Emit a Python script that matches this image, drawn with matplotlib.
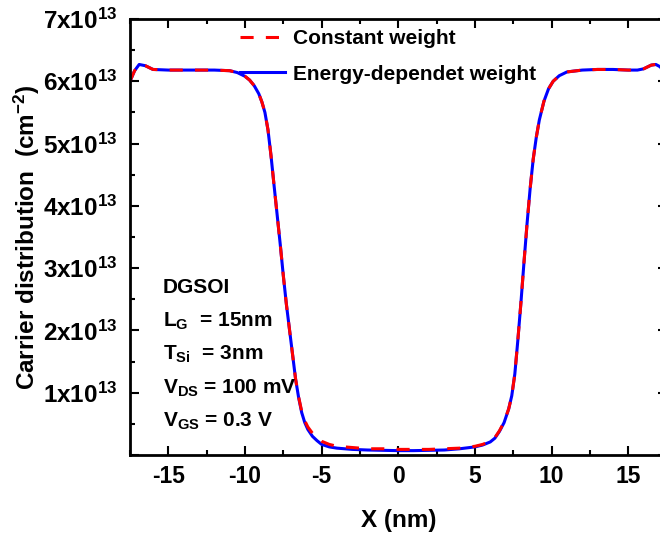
"""Carrier distribution along the channel of a DGSOI device.

Compares the constant weight and the energy-dependent weight models.
"""

import matplotlib

matplotlib.use("Agg")
import matplotlib.pyplot as plt
from matplotlib.ticker import FuncFormatter, MultipleLocator

# position along the channel (nm)
X_NM = [
    -17.5, -17.2, -16.9, -16.5, -16.0, -15.0, -14.0, -13.0, -12.0, -11.0,
    -10.5, -10.0, -9.7, -9.4, -9.1, -8.9, -8.7, -8.5, -8.3, -8.1,
    -7.9, -7.7, -7.5, -7.3, -7.1, -6.9, -6.7, -6.5, -6.3, -6.1,
    -5.9, -5.6, -5.3, -5.0, -4.5, -4.0, -3.0, -2.0, -1.0, 0.0,
    1.0, 2.0, 3.0, 4.0, 5.0, 5.5, 6.0, 6.3, 6.6, 6.9,
    7.2, 7.4, 7.6, 7.8, 8.0, 8.2, 8.4, 8.6, 8.8, 9.0,
    9.2, 9.5, 9.8, 10.1, 10.5, 11.0, 12.0, 13.0, 14.0, 15.0,
    15.6, 16.0, 16.5, 16.8, 17.1, 17.5,
]
# energy-dependent weight (x1e13 cm^-2)
ENERGY_WEIGHT = [
    6.00, 6.17, 6.27, 6.25, 6.19, 6.18, 6.18, 6.18, 6.18, 6.17,
    6.14, 6.08, 6.02, 5.93, 5.80, 5.67, 5.50, 5.22, 4.80, 4.32,
    3.85, 3.38, 2.88, 2.42, 2.02, 1.62, 1.22, 0.92, 0.68, 0.52,
    0.41, 0.30, 0.23, 0.17, 0.13, 0.11, 0.09, 0.08, 0.075, 0.07,
    0.07, 0.075, 0.08, 0.10, 0.13, 0.16, 0.21, 0.27, 0.38, 0.52,
    0.74, 0.95, 1.30, 1.85, 2.45, 3.10, 3.72, 4.28, 4.75, 5.10,
    5.38, 5.68, 5.88, 6.00, 6.09, 6.15, 6.18, 6.19, 6.19, 6.18,
    6.18, 6.20, 6.26, 6.27, 6.23, 6.05,
]
# constant weight (x1e13 cm^-2)
CONSTANT_WEIGHT = [
    6.00, 6.17, 6.27, 6.25, 6.19, 6.18, 6.18, 6.18, 6.18, 6.17,
    6.14, 6.08, 6.02, 5.93, 5.80, 5.67, 5.50, 5.22, 4.80, 4.32,
    3.85, 3.38, 2.88, 2.42, 2.02, 1.62, 1.22, 0.93, 0.70, 0.55,
    0.45, 0.35, 0.28, 0.22, 0.17, 0.14, 0.12, 0.10, 0.10, 0.09,
    0.09, 0.09, 0.10, 0.11, 0.14, 0.17, 0.22, 0.28, 0.39, 0.53,
    0.74, 0.95, 1.30, 1.85, 2.45, 3.10, 3.72, 4.28, 4.75, 5.10,
    5.38, 5.68, 5.88, 6.00, 6.09, 6.15, 6.18, 6.19, 6.19, 6.18,
    6.18, 6.20, 6.26, 6.27, 6.23, 6.05,
]
LEGEND_LABELS = ["Constant weight", "Energy-dependet weight"]
DEVICE_NOTES = [
    "DGSOI",
    r"L$_\mathbf{G}$  = 15nm",
    r"T$_\mathbf{Si}$  = 3nm",
    r"V$_\mathbf{DS}$ = 100 mV",
    r"V$_\mathbf{GS}$ = 0.3 V",
]

W, H = 660, 537

plt.rcParams["font.family"] = "Liberation Sans"
plt.rcParams["font.weight"] = "bold"
plt.rcParams["axes.unicode_minus"] = False
plt.rcParams["mathtext.fontset"] = "custom"
plt.rcParams["mathtext.rm"] = "Liberation Sans"
plt.rcParams["mathtext.bf"] = "Liberation Sans:bold"
plt.rcParams["mathtext.it"] = "Liberation Sans:bold"
plt.rcParams["mathtext.default"] = "bf"


def sci_label(value, _pos):
    """Format tick values as 'Nx10^13', leaving zero blank."""
    if abs(value) < 1e-9:
        return ""
    return rf"{value:.0f}x10$^{{\mathrm{{13}}}}$"


fig = plt.figure(figsize=(W / 100, H / 100), dpi=100)
# the right spine sits just past the picture's edge in the reference
ax = fig.add_axes([130 / W, 1 - 455 / H, 536.6 / W, 436 / H])

(blue,) = ax.plot(X_NM, ENERGY_WEIGHT, color="#0000ff", lw=2.2)
(red,) = ax.plot(
    X_NM, CONSTANT_WEIGHT, color="#ff0000", lw=2.2, linestyle=(0, (4.3, 4.0))
)

ax.set_xlim(-17.5, 17.5)
ax.set_ylim(0, 7)
ax.xaxis.set_major_locator(MultipleLocator(5))
ax.xaxis.set_minor_locator(MultipleLocator(2.5))
ax.yaxis.set_major_locator(MultipleLocator(1))
ax.yaxis.set_minor_locator(MultipleLocator(0.5))
ax.yaxis.set_major_formatter(FuncFormatter(sci_label))

for spine in ax.spines.values():
    spine.set_linewidth(2.0)
ax.tick_params(which="both", direction="in", top=True, right=True, width=1.5)
ax.tick_params(which="major", length=6.5)
ax.tick_params(which="minor", length=3.6)
ax.tick_params(axis="x", which="major", pad=7, labelsize=16.5)
ax.tick_params(axis="y", which="major", pad=9, labelsize=17.5)

ax.set_xlabel("X (nm)", fontsize=17.5, fontweight="bold", labelpad=15)
ax.set_ylabel(
    r"Carrier distribution  (cm$^{\mathrm{-2}}$)",
    fontsize=17.5,
    fontweight="bold",
    labelpad=1,
)

ax.legend(
    [red, blue],
    LEGEND_LABELS,
    loc="upper left",
    bbox_to_anchor=(240 / W, 1 - 29 / H),
    bbox_transform=fig.transFigure,
    frameon=False,
    borderpad=0,
    borderaxespad=0,
    handlelength=2.16,
    handletextpad=0.4,
    labelspacing=0.8,
    prop={"size": 15, "weight": "bold"},
)

for i, note in enumerate(DEVICE_NOTES):
    fig.text(163 / W, 1 - (293 + 33.5 * i) / H, note, fontsize=15, va="baseline")

fig.savefig("out.png", dpi=100)
